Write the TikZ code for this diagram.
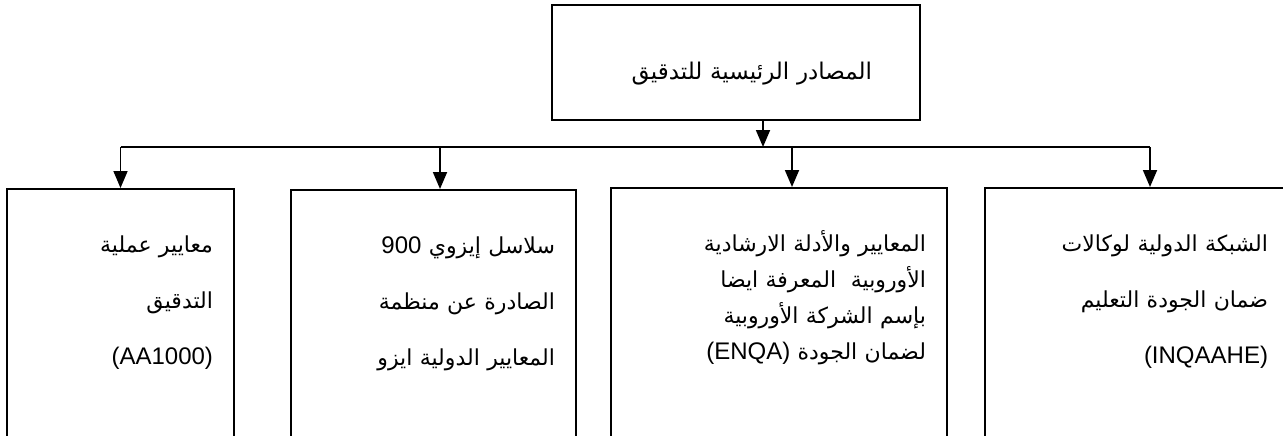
\documentclass[tikz,border=0pt]{standalone}
\usepackage{fontspec}
\setmainfont{Liberation Sans}
\newfontfamily\ar[Script=Arabic]{DejaVu Sans}
\usetikzlibrary{arrows.meta}
\TeXXeTstate=1
\newcommand\lat[1]{{\rmfamily\fontsize{24}{30}\selectfont#1}}

\begin{document}
\begin{tikzpicture}[x=1pt,y=-1pt,line width=1.8pt,
  tip/.style={-{Triangle[length=17pt,width=14pt]}},
  src/.style={draw,minimum width=368pt,minimum height=115pt,inner xsep=48pt,text width=272pt,
    align=right,text height=35pt,text depth=0pt,font=\ar\fontsize{23}{26}\selectfont},
  leaf/.style={draw,anchor=north,align=right,inner xsep=21pt,inner ysep=0pt,
    text height=64pt,text depth=300pt,font=\ar\fontsize{22}{56}\selectfont}]
\useasboundingbox (0,0) rectangle (1283,436);
\clip (0,0) rectangle (1283,436);
\node[src] (src) at (736,62.5) {\beginR المصادر الرئيسية للتدقيق\endR};
\node[leaf,text width=185pt] (s1) at (120.5,188) {\beginR معايير عملية\endR\\
  \beginR التدقيق\endR\\ \lat{(AA1000)}};
\node[leaf,text width=243pt] (s2) at (433.5,189) {\beginR سلاسل إيزوي \beginL\lat{900}\endL\endR\\
  \beginR الصادرة عن منظمة\endR\\ \beginR المعايير الدولية ايزو\endR};
\node[leaf,text width=294pt,font=\ar\fontsize{22}{36}\selectfont] (s3) at (779,187)
  {\beginR المعايير والأدلة الارشادية\endR\\ \beginR الأوروبية\ \ المعرفة ايضا\endR\\
  \beginR بإسم الشركة الأوروبية\endR\\ \beginR لضمان الجودة \beginL\lat{(ENQA)}\endL\endR};
\node[leaf,text width=262pt] (s4) at (1137,187) {\beginR الشبكة الدولية لوكالات\endR\\
  \beginR ضمان الجودة التعليم\endR\\ \lat{(INQAAHE)}};
\coordinate (hub) at (763,147);
\coordinate (l) at (120.5,147);
\coordinate (b2) at (440,147);
\coordinate (b3) at (792,147);
\coordinate (r) at (1150,147);
\draw[tip] (src.south -| hub) -- (hub);
\draw (l) -- (r);
\draw[tip] (l) -- (s1.north);
\draw[tip] (b2) -- (b2 |- s2.north);
\draw[tip] (b3) -- (b3 |- s3.north);
\draw[tip] (r) -- (r |- s4.north);
\end{tikzpicture}
\end{document}
